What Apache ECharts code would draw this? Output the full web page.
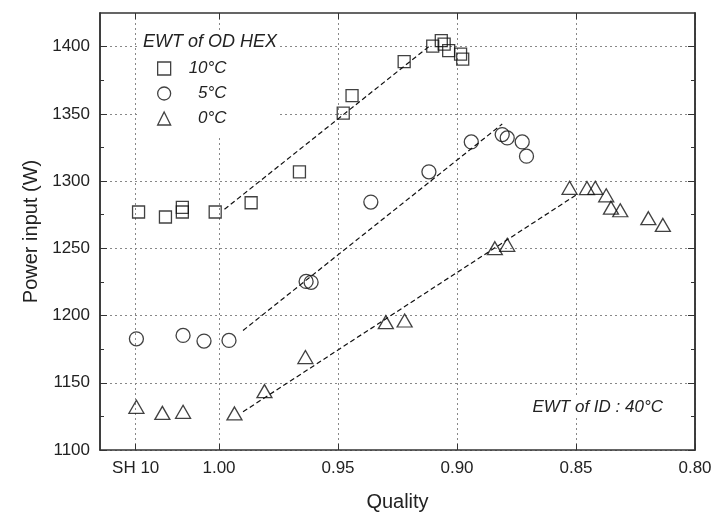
<!DOCTYPE html>
<html><head><meta charset="utf-8">
<script src="https://cdn.jsdelivr.net/npm/echarts@6/dist/echarts.min.js"></script>
<style>html,body{margin:0;padding:0;background:#fff}#c{width:714px;height:515px}</style>
</head><body><div id="c"></div>
<script>
// ---- data ----
const quality10 = [1.0338,1.0225,1.0154,1.0154,1.0016,0.9865,0.9662,0.9478,0.9441,0.9222,0.9102,0.9066,0.9054,0.9035,0.8985,0.8976];
const power10   = [1277,1273.3,1280.5,1277,1277,1283.9,1306.9,1350.6,1363.5,1388.9,1400.3,1404.4,1401.9,1397,1394.4,1390.7];
const quality5  = [1.0347,1.0151,1.0063,0.9958,0.9634,0.9613,0.9362,0.9118,0.894,0.881,0.8789,0.8726,0.8708];
const power5    = [1182.7,1185.2,1181,1181.5,1225.4,1224.7,1284.4,1306.9,1329.1,1334.6,1332.1,1329.1,1318.5];
const quality0  = [1.0347,1.0238,1.0151,0.9935,0.9809,0.9637,0.9299,0.922,0.8841,0.8789,0.8527,0.8454,0.8419,0.8373,0.8353,0.8314,0.8196,0.8135];
const power0    = [1132.1,1127.6,1128.4,1127.2,1143.8,1169.1,1195.1,1196.3,1250.1,1252.6,1295,1294.8,1295,1289.4,1280.2,1278.3,1272.4,1267.4];
const fitQuality10 = [0.9977,0.911];  const fitPower10 = [1279,1401.2];
const fitQuality5  = [0.9899,0.881];  const fitPower5  = [1188.9,1342.4];
const fitQuality0  = [0.9899,0.8496]; const fitPower0  = [1128.4,1290.1];
const xTickValues = [1.035,1.00,0.95,0.90,0.85,0.80];
const xTickLabels = ['SH 10','1.00','0.95','0.90','0.85','0.80'];
const yMajorTicks = [1100,1150,1200,1250,1300,1350,1400];
const yMinorTicks = [1125,1175,1225,1275,1325,1375];
const seriesNames = ['10°C','5°C','0°C'];
const legendTitle = 'EWT of OD HEX';
const noteText = 'EWT of ID : 40°C';
const xTitle = 'Quality';
const yTitle = 'Power input (W)';

const zip = (a,b)=>a.map((v,i)=>[v,b[i]]);
const FONT = '"Liberation Sans", Arial, sans-serif';
const INK = '#222';
const MARK = '#111';
const gridLine = {show:true, lineStyle:{color:'#888', type:[2,3], width:1}};

const chart = echarts.init(document.getElementById('c'), null, {renderer:'canvas'});
const xBase = {
  type:'value', min:0.80, max:1.05, interval:0.05, inverse:true,
  axisLine:{show:true, onZero:false, lineStyle:{color:'#333', width:1.5}},
  axisTick:{show:true, inside:true, length:6, customValues:xTickValues, lineStyle:{color:'#333'}},
};
const yAxisOf = (pos, ticks, len, extra)=>Object.assign({
  type:'value', min:1100, max:1425, interval:50, position:pos,
  axisLine:{show:true, onZero:false, lineStyle:{color:'#333', width:1.5}},
  axisTick:{show:true, inside:true, length:len, customValues:ticks, lineStyle:{color:'#333'}},
  axisLabel:{show:false}, splitLine:{show:false}
}, extra||{});
const scatterStyle = {color:'rgba(255,255,255,0)', borderColor:MARK, borderWidth:1.3};
const lineSeries = (data)=>({type:'line', data, symbol:'none', silent:true, z:1,
  lineStyle:{color:'#111', width:1.2, type:[5,3]}, xAxisIndex:0, yAxisIndex:0});

chart.setOption({
  animation:false,
  textStyle:{fontFamily:FONT},
  grid:{left:100, right:19, top:13, bottom:65, containLabel:false, outerBoundsMode:'none'},
  xAxis:[
    Object.assign({}, xBase, {position:'bottom',
      name:xTitle, nameLocation:'middle', nameGap:42,
      nameTextStyle:{fontSize:20, color:INK, fontFamily:FONT},
      axisLabel:{show:true, customValues:xTickValues, margin:10, fontSize:17, color:INK, fontFamily:FONT,
        formatter:(v)=>{const i=xTickValues.findIndex(t=>Math.abs(t-v)<1e-6); return i>=0?xTickLabels[i]:'';}},
      splitLine:gridLine}),
    Object.assign({}, xBase, {position:'top', axisLabel:{show:false}, splitLine:{show:false}})
  ],
  yAxis:[
    yAxisOf('left', yMajorTicks, 7, {
      name:yTitle, nameLocation:'middle', nameGap:58,
      nameTextStyle:{fontSize:20, color:INK, fontFamily:FONT},
      axisLabel:{show:true, customValues:yMajorTicks, margin:10, fontSize:17, color:INK, fontFamily:FONT,
        formatter:(v)=>String(Math.round(v))},
      splitLine:gridLine}),
    yAxisOf('left', yMinorTicks, 4),
    yAxisOf('right', yMajorTicks, 7),
    yAxisOf('right', yMinorTicks, 4)
  ],
  legend:{
    data:seriesNames, orient:'vertical', left:139, top:33,
    padding:[27, 52, 10, 18], backgroundColor:'#fff',
    itemWidth:13, itemHeight:13, itemGap:8,
    itemStyle:{borderWidth:1.3, borderColor:MARK, color:'rgba(255,255,255,0)'},
    formatter:(n)=>'{t|'+n+'}',
    textStyle:{color:INK, fontFamily:FONT, fontStyle:'italic', fontSize:17, lineHeight:14,
      rich:{t:{width:39, align:'right', padding:[0,0,0,12], lineHeight:14, fontSize:17, fontStyle:'italic', color:INK, fontFamily:FONT}}}
  },
  graphic:[
    {type:'text', left:143, top:33, z:100, style:{text:legendTitle, fontSize:18, fontStyle:'italic', fill:INK, fontFamily:FONT}},
    {type:'text', right:714-665, top:397, z:100, style:{text:noteText, fontSize:17, fontStyle:'italic', fill:INK, fontFamily:FONT,
      backgroundColor:'#fff', padding:[2,2,2,2]}}
  ],
  series:[
    {name:seriesNames[0], type:'scatter', data:zip(quality10,power10), symbol:'rect', symbolSize:12, itemStyle:scatterStyle, z:3},
    {name:seriesNames[1], type:'scatter', data:zip(quality5,power5), symbol:'circle', symbolSize:14, itemStyle:scatterStyle, z:3},
    {name:seriesNames[2], type:'scatter', data:zip(quality0,power0), symbol:'triangle', symbolSize:[15,13], itemStyle:scatterStyle, z:3},
    lineSeries(zip(fitQuality10,fitPower10)),
    lineSeries(zip(fitQuality5,fitPower5)),
    lineSeries(zip(fitQuality0,fitPower0))
  ]
});
</script></body></html>
